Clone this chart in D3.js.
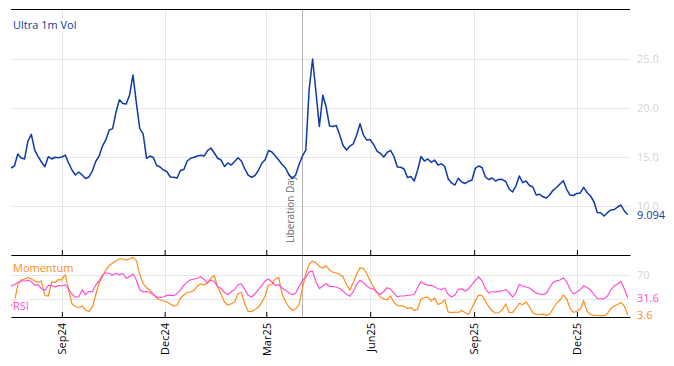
<!DOCTYPE html>
<html>
<head>
<meta charset="utf-8">
<script src="https://cdn.jsdelivr.net/npm/d3@7"></script>
<style>
  body { margin: 0; background: #fff; }
  svg { font-family: "Open Sans", sans-serif; }
</style>
</head>
<body>
<div id="chart"></div>
<script>
// one reading every 3 calendar days, starting 18 Jul 2024
var startDate = '2024-07-18';
var stepDays = 3;

var volValues = [
  13.88, 14.08, 15.3, 14.9, 14.8, 16.63, 17.3, 15.7, 15.03, 14.49,
  14.0, 15.03, 14.8, 14.97, 14.93, 15.0, 15.2, 14.39, 13.67, 13.16,
  13.47, 13.16, 12.81, 12.96, 13.57, 14.54, 15.1, 16.12, 16.77, 17.76,
  17.9, 19.59, 20.85, 20.46, 20.41, 21.33, 23.37, 20.5, 17.9, 17.35,
  14.87, 15.1, 14.95, 14.13, 13.98, 13.67, 13.5, 12.96, 12.93, 12.86,
  13.62, 13.72, 14.59, 14.87, 14.97, 15.1, 15.17, 15.1, 15.66, 15.92,
  15.41, 14.87, 14.69, 14.03, 14.39, 14.18, 14.54, 14.92, 14.59, 13.78,
  13.16, 12.93, 13.11, 13.62, 14.36, 14.72, 15.66, 15.51, 15.1, 14.69,
  14.23, 13.88, 13.21, 12.81, 13.16, 14.23, 15.1, 15.71, 21.96, 25.0,
  21.6, 18.11, 21.3, 20.1, 18.16, 18.11, 18.21, 17.24, 16.17, 15.71,
  16.12, 16.33, 17.24, 18.4, 17.24, 16.73, 16.78, 16.28, 15.61, 15.38,
  15.0, 15.46, 15.68, 15.05, 13.98, 13.95, 13.78, 12.91, 13.01, 12.55,
  13.67, 15.05, 14.59, 14.8, 14.46, 14.69, 14.18, 14.3, 14.03, 12.78,
  12.35, 12.14, 12.83, 12.45, 12.3, 12.52, 12.62, 13.83, 14.08, 13.93,
  12.96, 12.7, 12.86, 12.55, 12.72, 12.7, 12.5, 11.73, 11.43, 12.04,
  13.06, 12.38, 12.55, 12.09, 11.94, 11.12, 11.2, 10.94, 10.82, 11.15,
  11.63, 11.89, 12.24, 12.58, 11.68, 11.12, 11.07, 11.28, 11.33, 11.9,
  11.38, 11.02, 10.46, 9.34, 9.32, 8.98, 9.32, 9.59, 9.64, 9.9,
  10.1, 9.49, 9.094
];

var momentumValues = [
  18, 25, 53.3, 61.7, 63.3, 66, 63.3, 60, 58.3, 60,
  35.8, 35, 58.3, 57.5, 62.5, 61.7, 71.7, 45, 21.7, 17.5,
  15.5, 18.3, 11.7, 9.2, 16.7, 36.7, 56.7, 67.5, 78.3, 85.8,
  90, 93.3, 97, 96.7, 95, 96.7, 99.7, 94.2, 70.8, 55.8,
  48.7, 45, 38.3, 31.7, 28.3, 26.7, 25.5, 21.7, 18.7, 19.2,
  31.3, 36.7, 40.8, 41.7, 44.2, 51.7, 55, 53.3, 57.5, 65,
  68.3, 50, 38.3, 25, 19.5, 22.2, 25, 38.8, 40.8, 21.7,
  9.2, 9.3, 12.5, 16.3, 24.2, 35.5, 53.3, 54.2, 63.3, 66,
  38.8, 25.8, 16.7, 11.2, 13.3, 20.8, 48.3, 72.5, 88.3, 92.8,
  90.3, 84.2, 81.7, 85.5, 78.3, 74.5, 73.3, 71.2, 66.7, 54.2,
  45, 57.5, 71.7, 81.7, 81.3, 71.7, 60, 50, 41.7, 33.3,
  30.5, 28.7, 35, 24.3, 19.2, 18.7, 17.8, 14.2, 15.8, 10.8,
  13.3, 30, 32.5, 33.3, 26.7, 31.7, 20.8, 23.3, 28.3, 8.3,
  7.2, 8.3, 7.5, 10.8, 7.5, 4.2, 15, 26.7, 36.7, 35.8,
  26.7, 16.7, 10, 6.3, 7.5, 12.2, 21.7, 7.5, 7.5, 14.2,
  22.5, 20.8, 25, 16.7, 7, 4.2, 4.2, 4.7, 2.8, 5,
  14.2, 23.3, 28.3, 36.7, 30, 14.2, 7.8, 9.5, 13.3, 26.7,
  9.2, 4.2, 2.8, 2.5, 2.2, 2.2, 5.8, 13.8, 18.3, 20.8,
  24.2, 18.3, 3.6
];

var rsiValues = [
  51.2, 53.8, 57.5, 60.3, 60, 61.2, 59.2, 52.8, 53.8, 47,
  44.5, 52.8, 52.5, 50, 52.7, 51.7, 53.8, 46.7, 37.8, 33,
  33.3, 45, 37.2, 42.8, 42, 53.3, 60, 70, 73.7, 72.5,
  70, 73, 70.3, 72.7, 64.5, 67.3, 71.7, 61.7, 45.3, 42,
  42.5, 40.8, 37, 33.3, 32.8, 33.3, 36, 36.3, 35.5, 38.7,
  45.3, 52.7, 58.3, 62, 63.3, 64.5, 67.3, 62.5, 56.7, 61.7,
  59.2, 50.8, 47.5, 40.8, 37.5, 42, 45.8, 54.2, 55.3, 45.8,
  36.2, 33.3, 38.7, 45.8, 52.8, 60, 63.3, 58.3, 52.8, 53.8,
  48.3, 44.5, 40.3, 37.2, 39.5, 50.8, 61.3, 66.2, 75.3, 76.3,
  58.3, 47.5, 51.7, 55.8, 50.8, 51.2, 49.5, 47.5, 43.3, 37.8,
  34.7, 42.3, 55, 61, 57.3, 51.7, 47.5, 46.7, 40.3, 38,
  42.5, 48.7, 46.7, 39.5, 33.7, 35, 35, 36.2, 36.7, 37.5,
  49.2, 59, 55.2, 52.8, 52.8, 50.3, 47, 45.8, 48.3, 37.8,
  33.3, 36.7, 46.3, 46.7, 43.3, 46.7, 53.8, 61, 66.7, 60.3,
  47.3, 40, 42.5, 41.5, 42.8, 43.8, 45.7, 40.8, 33.3, 40,
  54.5, 51.7, 50, 48.3, 44.3, 39.7, 38, 37.5, 39.7, 49.2,
  58.3, 60.3, 61.7, 65.5, 58.3, 45.8, 38.3, 41.7, 45.7, 51.7,
  49.2, 45, 38.3, 30.8, 30.3, 30.5, 35, 45, 51.7, 55,
  59.3, 46.7, 31.6
];

var tickMonths = ['2024-09-01', '2024-12-01', '2025-03-01', '2025-06-01', '2025-09-01', '2025-12-01'];
var volTicks = [10, 15, 20, 25];
var oscTicks = [30, 70];
var eventDate = '2025-04-02';
var eventLabel = 'Liberation Day';

var width = 674, height = 366;
var left = 11, right = 630;
var mainTop = 9, mainBottom = 255, oscBottom = 317;
var blue = '#0d3aa6', orange = '#ff8c1a', pink = '#ff4fd6';

var parse = d3.utcParse('%Y-%m-%d');
var start = parse(startDate);
var dates = volValues.map(function(d, i) { return d3.utcDay.offset(start, i * stepDays); });

var x = d3.scaleUtc()
  .domain([start, d3.utcDay.offset(start, 548)])
  .range([left, right]);
var yVol = d3.scaleLinear().domain([5, 30]).range([mainBottom, 10]);
var yOsc = d3.scaleLinear().domain([0, 100]).range([oscBottom, 257]);

var svg = d3.select('#chart').append('svg')
  .attr('width', width)
  .attr('height', height);

var defs = svg.append('defs');
defs.append('clipPath').attr('id', 'clipMain').append('rect')
  .attr('x', left).attr('y', mainTop).attr('width', right - left).attr('height', mainBottom - mainTop);
defs.append('clipPath').attr('id', 'clipOsc').append('rect')
  .attr('x', left).attr('y', mainBottom).attr('width', right - left).attr('height', oscBottom - mainBottom);

var tickDates = tickMonths.map(parse);

// grid
var grid = svg.append('g').attr('stroke', '#e6e6e6').attr('stroke-width', 1);
grid.selectAll('.vg').data(tickDates).enter().append('line')
  .attr('x1', function(d) { return Math.round(x(d)) + 0.5; })
  .attr('x2', function(d) { return Math.round(x(d)) + 0.5; })
  .attr('y1', mainTop).attr('y2', oscBottom);
grid.selectAll('.hg').data(volTicks).enter().append('line')
  .attr('x1', left).attr('x2', right)
  .attr('y1', function(d) { return Math.round(yVol(d)) + 0.5; })
  .attr('y2', function(d) { return Math.round(yVol(d)) + 0.5; });
grid.selectAll('.og').data(oscTicks).enter().append('line')
  .attr('x1', left).attr('x2', right)
  .attr('y1', function(d) { return Math.round(yOsc(d)) + 0.5; })
  .attr('y2', function(d) { return Math.round(yOsc(d)) + 0.5; });

// event marker
var ex = Math.round(x(parse(eventDate))) + 0.5;
svg.append('line')
  .attr('x1', ex).attr('x2', ex).attr('y1', mainTop).attr('y2', oscBottom)
  .attr('stroke', '#b4b4b4').attr('stroke-width', 1);
svg.append('text')
  .attr('transform', 'translate(' + (ex - 9) + ',' + (mainBottom - 12) + ') rotate(-90)')
  .attr('font-size', 10)
  .attr('fill', '#6e6e6e')
  .text(eventLabel);

// series
var volLine = d3.line()
  .x(function(d, i) { return x(dates[i]); })
  .y(function(d) { return yVol(d); });
var oscLine = d3.line()
  .x(function(d, i) { return x(dates[i]); })
  .y(function(d) { return yOsc(d); });

svg.append('path').datum(volValues)
  .attr('clip-path', 'url(#clipMain)')
  .attr('fill', 'none').attr('stroke', blue).attr('stroke-width', 1.5)
  .attr('stroke-linejoin', 'round')
  .attr('d', volLine);

svg.append('path').datum(momentumValues)
  .attr('clip-path', 'url(#clipOsc)')
  .attr('fill', 'none').attr('stroke', orange).attr('stroke-width', 1.2)
  .attr('d', oscLine);
svg.append('path').datum(rsiValues)
  .attr('clip-path', 'url(#clipOsc)')
  .attr('fill', 'none').attr('stroke', pink).attr('stroke-width', 1.2)
  .attr('d', oscLine);

// frame and axes
svg.append('line')
  .attr('x1', left).attr('x2', right).attr('y1', mainTop + 0.5).attr('y2', mainTop + 0.5)
  .attr('stroke', '#000').attr('stroke-width', 1.2);

var mainAxis = svg.append('g')
  .attr('transform', 'translate(0,' + mainBottom + ')')
  .call(d3.axisBottom(x).tickValues(tickDates).tickSize(-5).tickSizeOuter(0).tickFormat(''));
var oscAxis = svg.append('g')
  .attr('transform', 'translate(0,' + oscBottom + ')')
  .call(d3.axisBottom(x).tickValues(tickDates).tickSize(-5).tickSizeOuter(0).tickFormat(d3.utcFormat('%b%y')));
[mainAxis, oscAxis].forEach(function(a) {
  a.select('.domain').attr('stroke', '#000').attr('stroke-width', 1.2);
  a.selectAll('.tick line').attr('stroke', '#000');
});
oscAxis.selectAll('.tick text')
  .attr('y', 0).attr('x', -6).attr('dy', '0.35em')
  .attr('transform', 'rotate(-90)')
  .style('text-anchor', 'end')
  .attr('fill', '#000')
  .attr('font-size', 11)
  .attr('font-family', '"Open Sans", sans-serif');

// right-hand labels
var labelX = right + 7;
svg.selectAll('.vl').data(volTicks).enter().append('text')
  .attr('x', labelX).attr('y', function(d) { return yVol(d); }).attr('dy', '0.35em')
  .attr('font-size', 11).attr('fill', '#d6d6d6')
  .text(d3.format('.1f'));
svg.selectAll('.ol').data([70]).enter().append('text')
  .attr('x', labelX).attr('y', function(d) { return yOsc(d); }).attr('dy', '0.35em')
  .attr('font-size', 11).attr('fill', '#d6d6d6')
  .text(function(d) { return d; });

var lastVol = volValues[volValues.length - 1];
var lastRsi = rsiValues[rsiValues.length - 1];
var lastMom = momentumValues[momentumValues.length - 1];
svg.append('text').attr('x', labelX).attr('y', yVol(lastVol)).attr('dy', '0.35em')
  .attr('font-size', 11).attr('fill', blue).text(d3.format('.3f')(lastVol));
svg.append('text').attr('x', labelX).attr('y', yOsc(lastRsi)).attr('dy', '0.35em')
  .attr('font-size', 11).attr('fill', pink).text(d3.format('.1f')(lastRsi));
svg.append('text').attr('x', labelX).attr('y', yOsc(lastMom)).attr('dy', '0.35em')
  .attr('font-size', 11).attr('fill', orange).text(d3.format('.1f')(lastMom));

// panel titles
function panelTitle(txt, y, color) {
  var g = svg.append('g');
  var t = g.append('text').attr('x', 13).attr('y', y)
    .attr('font-size', 11).attr('fill', color).text(txt);
  var b = t.node().getBBox();
  g.insert('rect', 'text')
    .attr('x', b.x - 1).attr('y', b.y).attr('width', b.width + 2).attr('height', b.height)
    .attr('fill', '#fff').attr('fill-opacity', 0.6);
}
panelTitle('Ultra 1m Vol', 29, blue);
panelTitle('Momentum', 272, orange);
panelTitle('RSI', 310, pink);
</script>
</body>
</html>
